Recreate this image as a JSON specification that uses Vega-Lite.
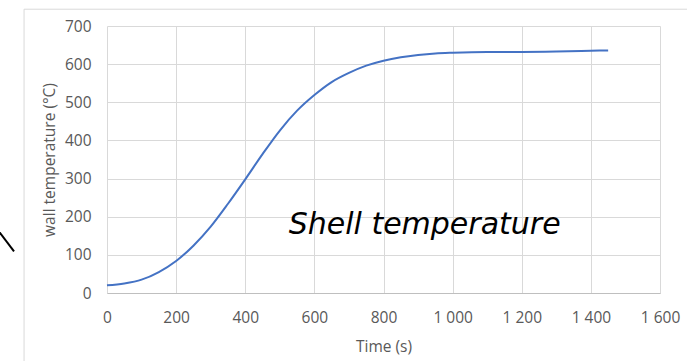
{
  "$schema": "https://vega.github.io/schema/vega-lite/v6.json",
  "width": 553,
  "height": 267,
  "autosize": {"type": "none"},
  "padding": {"left": 107, "top": 26, "right": 27, "bottom": 68},
  "background": "white",
  "config": {
    "view": {"stroke": null},
    "font": "Open Sans",
    "axis": {
      "labelFont": "Open Sans",
      "titleFont": "Open Sans",
      "labelColor": "#595959",
      "titleColor": "#595959",
      "labelFontSize": 15.5,
      "titleFontSize": 15.5,
      "titleFontWeight": "normal",
      "gridColor": "#d9d9d9",
      "gridWidth": 1,
      "tickSize": 0,
      "ticks": false,
      "labelOverlap": false,
      "labelFlush": false
    }
  },
  "datasets": {
    "curve": [
      {"time": 0, "temp": 20},
      {"time": 50, "temp": 25},
      {"time": 100, "temp": 35},
      {"time": 150, "temp": 55},
      {"time": 200, "temp": 84},
      {"time": 250, "temp": 124},
      {"time": 300, "temp": 174},
      {"time": 350, "temp": 234},
      {"time": 400, "temp": 298},
      {"time": 450, "temp": 364},
      {"time": 500, "temp": 426},
      {"time": 550, "temp": 478},
      {"time": 600, "temp": 519},
      {"time": 650, "temp": 553},
      {"time": 700, "temp": 577},
      {"time": 750, "temp": 596},
      {"time": 800, "temp": 609},
      {"time": 850, "temp": 618},
      {"time": 900, "temp": 624},
      {"time": 950, "temp": 628},
      {"time": 1000, "temp": 630},
      {"time": 1100, "temp": 632},
      {"time": 1200, "temp": 632},
      {"time": 1300, "temp": 633},
      {"time": 1400, "temp": 635},
      {"time": 1450, "temp": 636}
    ],
    "frame": [
      {"time": -240, "time2": 1680, "temp": 744, "temp2": 744},
      {"time": -240, "time2": -240, "temp": 744, "temp2": -190}
    ],
    "stray": [
      {"time": -315, "time2": -269, "temp": 164, "temp2": 109}
    ],
    "label": [
      {"time": 919, "temp": 155, "text": "Shell temperature"}
    ]
  },
  "encoding": {
    "x": {
      "field": "time", "type": "quantitative",
      "scale": {"domain": [0, 1600], "nice": false},
      "axis": {
        "title": "Time (s)",
        "values": [0, 200, 400, 600, 800, 1000, 1200, 1400, 1600],
        "labelExpr": "replace(format(datum.value, ','), ',', ' ')",
        "labelPadding": 17,
        "titlePadding": 14,
        "domainColor": "#bfbfbf",
        "domainWidth": 1,
        "grid": true
      }
    },
    "y": {
      "field": "temp", "type": "quantitative",
      "scale": {"domain": [0, 700], "nice": false},
      "axis": {
        "title": "wall temperature (°C)",
        "values": [0, 100, 200, 300, 400, 500, 600, 700],
        "labelPadding": 16,
        "titlePadding": 7,
        "domain": false,
        "grid": true
      }
    }
  },
  "layer": [
    {
      "data": {"name": "curve"},
      "mark": {"type": "line", "color": "#4472C4", "strokeWidth": 2, "interpolate": "monotone"}
    },
    {
      "data": {"name": "frame"},
      "mark": {"type": "rule", "color": "#d9d9d9", "strokeWidth": 1, "clip": false},
      "encoding": {
        "x2": {"field": "time2"},
        "y2": {"field": "temp2"}
      }
    },
    {
      "data": {"name": "stray"},
      "mark": {"type": "rule", "color": "#000000", "strokeWidth": 2, "clip": false},
      "encoding": {
        "x2": {"field": "time2"},
        "y2": {"field": "temp2"}
      }
    },
    {
      "data": {"name": "label"},
      "mark": {"type": "text", "font": "DejaVu Sans", "fontStyle": "italic", "fontSize": 30, "color": "#000000", "align": "center", "baseline": "alphabetic"},
      "encoding": {
        "text": {"field": "text"}
      }
    }
  ]
}
